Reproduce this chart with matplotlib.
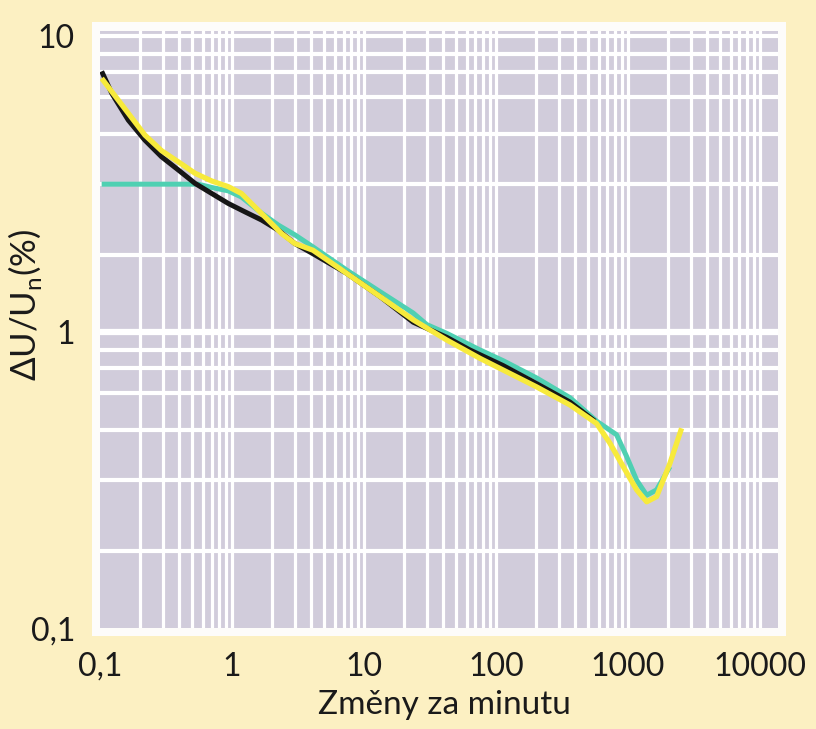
import matplotlib
matplotlib.use("Agg")
import matplotlib.pyplot as plt
from matplotlib.patches import Rectangle
import numpy as np

plt.rcParams['font.family'] = ['Lato', 'DejaVu Sans']

# voltage fluctuation limit curves, dU/Un (%) vs. changes per minute
black_x = [0.103, 0.123, 0.164, 0.219, 0.293, 0.392, 0.525, 0.702, 0.937, 1.25,
           1.68, 2.24, 3.0, 4.02, 7.39, 13.2, 23.6, 42.4, 63.5, 113.6, 203, 364, 562]
black_y = [7.6, 6.4, 5.2, 4.45, 3.91, 3.53, 3.18, 2.94, 2.72, 2.55,
           2.39, 2.21, 1.99, 1.85, 1.58, 1.32, 1.08, 0.96, 0.87, 0.77, 0.67, 0.58, 0.50]

teal_x = [0.103, 0.556, 0.702, 0.937, 1.18, 1.68, 2.24, 3.0, 4.11, 7.39, 13.2, 23.6,
          29.9, 42.4, 75.7, 113.6, 203, 364, 579, 820, 977, 1164, 1387, 1649, 2080]
teal_y = [3.16, 3.16, 3.08, 3.0, 2.86, 2.52, 2.30, 2.13, 1.94, 1.62, 1.37, 1.16,
          1.06, 0.99, 0.87, 0.80, 0.70, 0.60, 0.50, 0.45, 0.38, 0.316, 0.281, 0.293, 0.351]

yellow_x = [0.103, 0.123, 0.219, 0.293, 0.392, 0.525, 0.702, 0.937, 1.18, 1.49, 1.88,
            2.38, 3.0, 4.11, 7.39, 13.2, 23.6, 42.4, 75.7, 113.6, 203, 364, 579, 731,
            921, 1164, 1387, 1649, 2080, 2550]
yellow_y = [7.2, 6.49, 4.63, 4.10, 3.76, 3.44, 3.24, 3.10, 2.94, 2.65, 2.39,
            2.15, 1.99, 1.89, 1.58, 1.32, 1.10, 0.94, 0.815, 0.744, 0.653, 0.567, 0.491, 0.421,
            0.351, 0.293, 0.267, 0.278, 0.360, 0.473]

x_ticks = [0.1, 1, 10, 100, 1000, 10000]
x_ticklabels = ['0,1', '1', '10', '100', '1000', '10000']
y_ticks = [0.1, 1, 10]
y_ticklabels = ['0,1', '1', '10']

bg = '#fcf0c2'
panel = '#d1ccdb'

fig = plt.figure(figsize=(8.16, 7.29), dpi=100, facecolor=bg)

# white card behind the grid
fig.patches.append(Rectangle((0.1127, 0.1276), 0.8505, 0.8422, transform=fig.transFigure,
                             facecolor='#fdfcfa', edgecolor='none', zorder=-1))

ax = fig.add_axes([0.1225, 0.1385, 0.8309, 0.8189])
ax.set_zorder(1)
ax.set_facecolor(panel)
ax.set_xscale('log')
ax.set_yscale('log')
ax.set_xlim(0.1, 13700)
ax.set_ylim(0.1, 10.4)

# white grid: vertical lines on a log scale, horizontal lines at the printed spacing
for dec in range(-1, 5):
    for m in range(1, 10):
        v = m * 10.0 ** dec
        if 0.1 < v < 13700:
            ax.axvline(v, color='white', lw=2.3, zorder=1)
grid_frac = [0.26, 0.50, 0.67, 0.795, 0.88, 0.94]
for dec in (-1, 0):
    for f in grid_frac:
        ax.axhline(10 ** (dec + f), color='white', lw=3.0, zorder=1)
ax.axhline(1, color='white', lw=4.5, zorder=1)
ax.axhline(10, color='white', lw=3.0, zorder=1)

ax.plot(teal_x, teal_y, color='#4fd0b2', lw=3.6, zorder=3,
        solid_capstyle='butt', solid_joinstyle='round')
ax.plot(black_x, black_y, color='#161616', lw=3.6, zorder=4,
        solid_capstyle='butt', solid_joinstyle='round')
ax.plot(yellow_x, yellow_y, color='#f7ea3c', lw=3.8, zorder=5,
        solid_capstyle='butt', solid_joinstyle='round')

for s in ax.spines.values():
    s.set_visible(False)

ax.set_xticks(x_ticks)
ax.set_xticklabels(x_ticklabels)
ax.set_yticks(y_ticks)
ax.set_yticklabels(y_ticklabels)
ax.minorticks_off()
ax.tick_params(axis='both', length=0, labelsize=23, colors='#1a1a1a')
ax.tick_params(axis='x', pad=17)
ax.tick_params(axis='y', pad=18)

fig.text(0.545, 0.033, 'Změny za minutu', ha='center', va='center', fontsize=24, color='#1a1a1a')
fig.text(0.031, 0.582, 'ΔU/U$_\\mathregular{n}$(%)', ha='center', va='center', rotation=90,
         fontsize=25, color='#1a1a1a')

fig.savefig('out.png', dpi=100, facecolor=bg)
